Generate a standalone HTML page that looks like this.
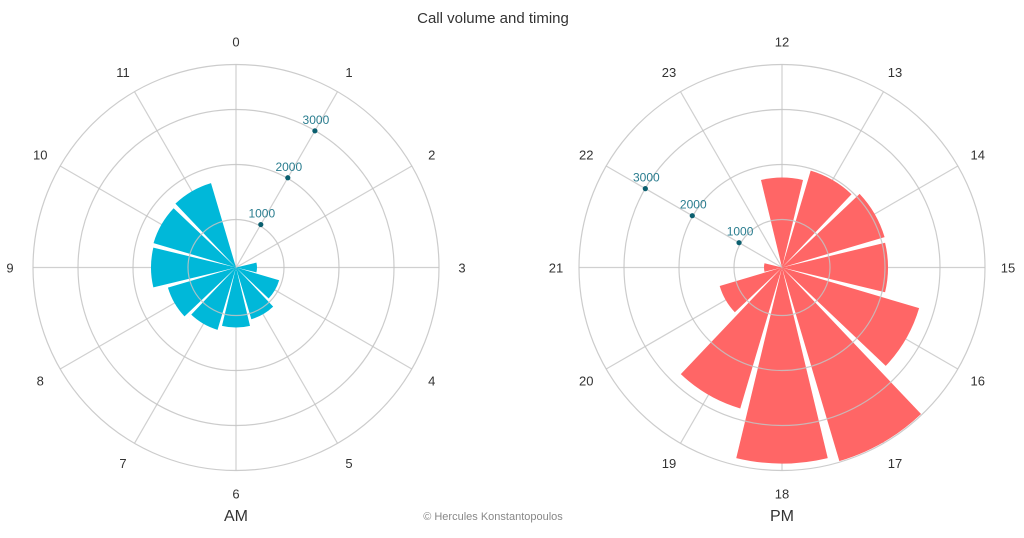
<!DOCTYPE html>
<html><head><meta charset="utf-8"><style>
html,body{margin:0;padding:0;background:#fff;}
svg{display:block;font-family:"Liberation Sans",sans-serif;}
</style></head><body>
<svg id="s" width="1024" height="538" viewBox="0 0 1024 538" xmlns="http://www.w3.org/2000/svg">
<text x="493" y="23" text-anchor="middle" font-size="15" fill="#333">Call volume and timing</text>
<text x="236" y="521" text-anchor="middle" font-size="16" fill="#333">AM</text>
<text x="782" y="521" text-anchor="middle" font-size="16" fill="#333">PM</text>
<text x="493" y="520" text-anchor="middle" font-size="11" fill="#888">© Hercules Konstantopoulos</text>
</svg>
<script>
var s=document.getElementById('s'),NS='http://www.w3.org/2000/svg';
function el(t,a,txt){var e=document.createElementNS(NS,t);for(var k in a)e.setAttribute(k,a[k]);if(txt!=null)e.textContent=txt;s.appendChild(e);return e;}
function pt(cx,cy,r,deg){var a=deg*Math.PI/180;return [cx+r*Math.sin(a),cy-r*Math.cos(a)];}
function chart(cx,cy,start,radii,color,tickAng){
  for(var i=0;i<12;i++){var p=pt(cx,cy,203,i*30);el('line',{x1:cx,y1:cy,x2:p[0],y2:p[1],stroke:'#d0d0d0','stroke-width':1.2});
    var q=pt(cx,cy,226,i*30);el('text',{x:q[0],y:q[1]+5,'text-anchor':'middle','font-size':13,fill:'#333'},String(start+i));}
  for(var i=0;i<12;i++){var r=radii[i];if(r<=0)continue;var a0=i*30-13.5,a1=i*30+13.5;
    var p0=pt(cx,cy,r,a0),p1=pt(cx,cy,r,a1);
    el('path',{d:'M'+cx+','+cy+'L'+p0[0]+','+p0[1]+'A'+r+','+r+' 0 0 1 '+p1[0]+','+p1[1]+'Z',fill:color});}
  [48,103,158,203].forEach(function(r){el('circle',{cx:cx,cy:cy,r:r,fill:'none',stroke:'rgba(195,195,195,0.85)','stroke-width':1.2});});
  [[49.6,'1000'],[103.6,'2000'],[157.8,'3000']].forEach(function(d){var p=pt(cx,cy,d[0],tickAng);
    el('circle',{cx:p[0],cy:p[1],r:2.6,fill:'#0b5f6f'});
    el('text',{x:p[0]+1,y:p[1]-7,'text-anchor':'middle','font-size':12,fill:'#2a7d8f'},d[1]);});
}
chart(236,267.5,0,[0,0,0,21,45,54,60,65,71,85,86,88],'#00b8d9',30);
chart(782,267.5,12,[90,101,107,106,143,202,196,147,65,18,0,0],'#ff6666',300);
</script>
</body></html>
